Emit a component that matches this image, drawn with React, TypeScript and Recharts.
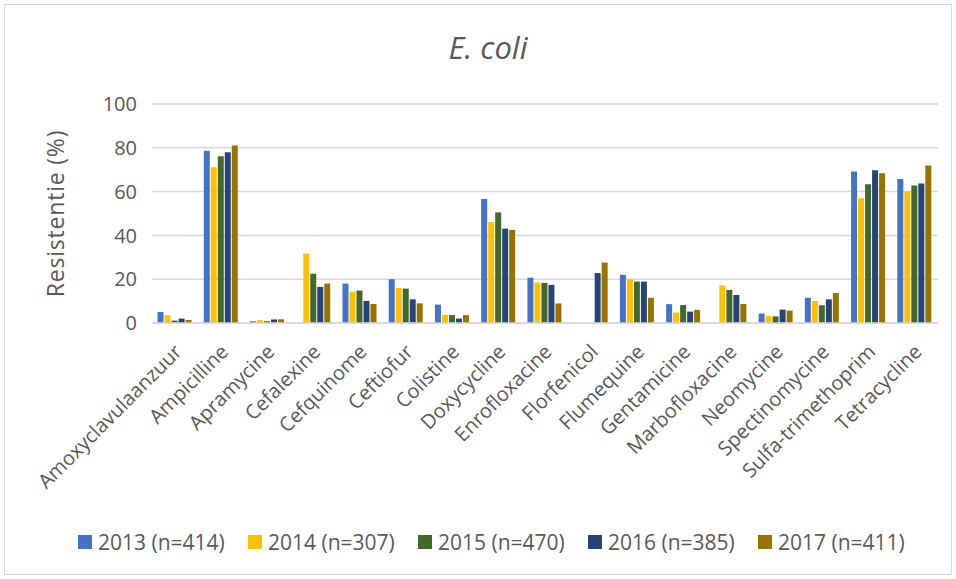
import { Bar, BarChart, CartesianGrid, Legend, XAxis, YAxis } from "recharts";

const categories = [
  "Amoxyclavulaanzuur",
  "Ampicilline",
  "Apramycine",
  "Cefalexine",
  "Cefquinome",
  "Ceftiofur",
  "Colistine",
  "Doxycycline",
  "Enrofloxacine",
  "Florfenicol",
  "Flumequine",
  "Gentamicine",
  "Marbofloxacine",
  "Neomycine",
  "Spectinomycine",
  "Sulfa-trimethoprim",
  "Tetracycline",
];

const v2013 = [5, 78.6, 0.8, null, 18, 20, 8.4, 56.6, 20.7, null, 22, 8.6, null, 4.3, 11.5, 69.2, 65.7];
const v2014 = [3.5, 71.1, 1.3, 31.7, 14.3, 16, 3.7, 46.1, 18.5, null, 20, 4.8, 17.2, 3.3, 10.1, 57, 60.2];
const v2015 = [1.1, 76.1, 0.8, 22.5, 14.8, 15.7, 3.6, 50.5, 18.3, null, 18.9, 8.2, 15.1, 3, 8.1, 63.3, 62.8];
const v2016 = [2, 78, 1.6, 16.5, 10.1, 10.8, 2, 43.1, 17.4, 22.8, 18.9, 5.2, 12.8, 6.1, 10.8, 69.8, 63.7];
const v2017 = [1.4, 81, 1.7, 18, 8.7, 9, 3.6, 42.5, 8.9, 27.6, 11.5, 6, 8.7, 5.7, 13.7, 68.4, 71.9];

const yTicks = [0, 20, 40, 60, 80, 100];

const series = [
  { key: "s2013", name: "2013 (n=414)", color: "#4472C4", values: v2013 },
  { key: "s2014", name: "2014 (n=307)", color: "#FFC000", values: v2014 },
  { key: "s2015", name: "2015 (n=470)", color: "#43682B", values: v2015 },
  { key: "s2016", name: "2016 (n=385)", color: "#264478", values: v2016 },
  { key: "s2017", name: "2017 (n=411)", color: "#997300", values: v2017 },
];

const data = categories.map((name, i) => {
  const row: Record<string, string | number | null> = { name };
  series.forEach((s) => {
    row[s.key] = s.values[i];
  });
  return row;
});

const FONT = "'Open Sans', sans-serif";
const TEXT = "#595959";

const XTick = (props: any) => {
  const { x, y, payload } = props;
  const tx = x + 8;
  const ty = y + 22;
  return (
    <text
      x={tx}
      y={ty}
      transform={`rotate(-45 ${tx} ${ty})`}
      textAnchor="end"
      fontSize={20}
      fontFamily={FONT}
      fill={TEXT}
    >
      {payload.value}
    </text>
  );
};

const LegendContent = () => (
  <div style={{ display: "flex", paddingLeft: 78, height: 22, alignItems: "center" }}>
    {series.map((s) => (
      <div key={s.key} style={{ width: 170, flexShrink: 0, display: "flex", alignItems: "center" }}>
        <span style={{ width: 14, height: 14, background: s.color, marginRight: 6 }} />
        <span style={{ fontFamily: FONT, fontSize: 21, color: TEXT, lineHeight: "22px" }}>{s.name}</span>
      </div>
    ))}
  </div>
);

export default function App() {
  return (
    <div style={{ position: "absolute", left: 0, top: 0, width: 956, height: 579, background: "#fff" }}>
      <div
        style={{
          position: "absolute",
          left: 4,
          top: 4,
          width: 946,
          height: 569,
          border: "1px solid #d9d9d9",
        }}
      />
      <div
        style={{
          position: "absolute",
          left: 388,
          top: 32,
          width: 200,
          textAlign: "center",
          fontFamily: FONT,
          fontStyle: "italic",
          fontSize: 31,
          lineHeight: "31px",
          color: TEXT,
        }}
      >
        E. coli
      </div>
      <BarChart
        width={956}
        height={579}
        data={data}
        margin={{ top: 104, right: 18, left: 0, bottom: 26 }}
        barCategoryGap="12%"
        barGap={1}
        style={{ position: "absolute", left: 0, top: 0 }}
      >
        <CartesianGrid vertical={false} stroke="#d9d9d9" strokeWidth={1.5} />
        <XAxis
          dataKey="name"
          interval={0}
          tick={<XTick />}
          tickLine={false}
          axisLine={{ stroke: "#d9d9d9", strokeWidth: 1.5 }}
          height={208}
        />
        <YAxis
          width={152}
          domain={[0, 100]}
          ticks={yTicks}
          tickLine={false}
          axisLine={false}
          tickMargin={9}
          tick={{ fontSize: 20, fontFamily: FONT, fill: TEXT }}
          label={{
            value: "Resistentie (%)",
            angle: -90,
            position: "insideLeft",
            offset: 56,
            style: { textAnchor: "middle", fontSize: 23, letterSpacing: 0.8, fontFamily: FONT, fill: TEXT },
          }}
        />
        <Legend
          verticalAlign="bottom"
          content={<LegendContent />}
          wrapperStyle={{ left: 0, width: 956 }}
        />
        {series.map((s) => (
          <Bar key={s.key} dataKey={s.key} name={s.name} fill={s.color} isAnimationActive={false} />
        ))}
      </BarChart>
    </div>
  );
}
